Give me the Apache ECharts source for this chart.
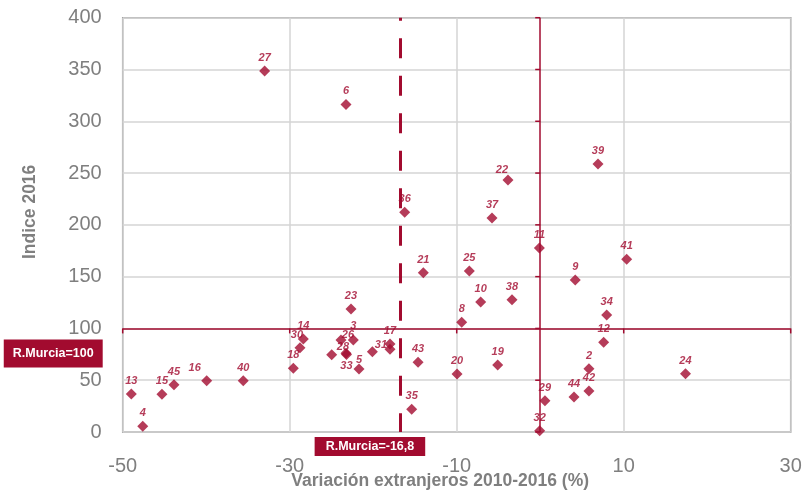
<!DOCTYPE html>
<html>
<head>
<meta charset="utf-8">
<script src="https://cdn.jsdelivr.net/npm/echarts@6/dist/echarts.min.js"></script>
<style>
html,body{margin:0;padding:0;background:#fff;}
#chart{width:804px;height:492px;}
</style>
</head>
<body>
<div id="chart"></div>
<script>
// ---- data ----
const pointNames = ['2','3','4','5','6','8','9','10','11','12','13','14','15','16','17','18','19','20','21','22','23','24','25','26','27','28','29','30','31','32','33','34','35','36','37','38','39','40','41','42','43','44','45','',''];
const variacion = [5.84,-22.38,-47.6,-21.7,-23.26,-9.4,4.2,-7.13,-0.1,7.6,-48.97,-28.37,-45.3,-39.94,-17.99,-29.57,-5.09,-9.96,-14.0,-3.86,-22.66,17.4,-8.49,-23.86,-33.0,-23.26,0.57,-28.77,-17.99,-0.06,-23.2,7.96,-15.39,-16.23,-5.77,-3.38,6.92,-35.56,10.36,5.84,-14.63,4.05,-43.86,-24.97,-20.1];
const indice = [61.1,88.8,5.5,60.8,316.3,105.9,146.7,125.5,177.6,86.6,36.7,89.8,36.4,49.5,84.9,61.5,64.7,56.0,153.8,243.2,118.7,56.3,155.4,88.8,348.5,76.0,30.2,81.4,79.8,1.3,74.8,112.9,21.9,212.1,206.6,127.7,258.7,49.5,166.7,39.6,67.3,33.8,45.7,74.6,77.5];
const murciaIndice = 100;
const murciaVariacion = -16.8;
const xTickLabels = ['-50','-30','-10','10','30'];
const yTickLabels = ['0','50','100','150','200','250','300','350','400'];

// ---- styles ----
const RED = '#A20B2F';
const GRAY_TXT = '#7F7F7F';
const FONT = '"Liberation Sans", Arial, sans-serif';
const labelTweaks = {
  '26': {offset:[7,8]},
  '3': {offset:[0,-1]},
  '28': {offset:[-3,7]},
  '33': {position:'bottom', distance:0},
  '5': {offset:[0,4]},
  '31': {offset:[-9,9]},
  '16': {offset:[-12,0]},
  '30': {offset:[-3,0]},
  '22': {offset:[-6,3]}
};

const xMin = Number(xTickLabels[0]), xMax = Number(xTickLabels[xTickLabels.length-1]);
const xStep = Number(xTickLabels[1]) - Number(xTickLabels[0]);
const yMin = Number(yTickLabels[0]), yMax = Number(yTickLabels[yTickLabels.length-1]);
const yStep = Number(yTickLabels[1]) - Number(yTickLabels[0]);

const scatterData = pointNames.map((n,i)=>{
  const item = {name:n, value:[variacion[i], indice[i]]};
  if (labelTweaks[n]) item.label = labelTweaks[n];
  return item;
});

const tickData = [];
yTickLabels.forEach(v=>tickData.push([0, Number(v), 0]));
xTickLabels.forEach(v=>tickData.push([Number(v), murciaIndice, 1]));

const chart = echarts.init(document.getElementById('chart'), null, {renderer:'canvas'});
chart.setOption({
  animation:false,
  backgroundColor:'#fff',
  textStyle:{fontFamily:FONT},
  grid:{left:122.7, right:13.3, top:17.7, bottom:60, containLabel:false, outerBoundsMode:'none',
        show:true, borderColor:'#8A8A8A', borderWidth:1.5, backgroundColor:'transparent'},
  xAxis:{
    type:'value', min:xMin, max:xMax, interval:xStep,
    axisLine:{show:false}, axisTick:{show:false},
    axisLabel:{color:GRAY_TXT, fontSize:20, margin:24, fontFamily:FONT, formatter:v=>String(v)},
    splitLine:{show:true, lineStyle:{color:'#D4D4D4', width:1.5}},
    name:'Variación extranjeros 2010-2016 (%)', nameLocation:'middle', nameGap:40, nameMoveOverlap:false,
    nameTextStyle:{color:GRAY_TXT, fontSize:17.5, fontWeight:'bold', fontFamily:FONT, padding:[0,33,0,0]}
  },
  yAxis:{
    type:'value', min:yMin, max:yMax, interval:yStep,
    axisLine:{show:false}, axisTick:{show:false},
    axisLabel:{color:GRAY_TXT, fontSize:20, margin:21, fontFamily:FONT},
    splitLine:{show:true, lineStyle:{color:'#D4D4D4', width:1.5}},
    name:'Indice 2016', nameLocation:'middle', nameGap:84,
    nameTextStyle:{color:GRAY_TXT, fontSize:17.5, fontWeight:'bold', fontFamily:FONT, padding:[0,0,0,26]}
  },
  series:[
    {
      type:'custom', silent:true, z:3,
      renderItem:function(params, api){
        const p = api.coord([api.value(0), api.value(1)]);
        const t = api.value(2);
        const shape = t === 0 ? {x1:p[0]-5, y1:p[1], x2:p[0], y2:p[1]} : {x1:p[0], y1:p[1], x2:p[0], y2:p[1]+5};
        return {type:'line', shape:shape, style:{stroke:RED, lineWidth:1.5}};
      },
      data:tickData
    },
    {
      type:'scatter', symbol:'diamond', symbolSize:11, z:5,
      itemStyle:{color:RED},
      label:{show:true, position:'top', distance:2, color:RED, fontSize:11, fontWeight:'bold', fontStyle:'italic', fontFamily:FONT, formatter:p=>p.name},
      data:scatterData,
      markLine:{
        silent:true, symbol:['none','none'], animation:false,
        data:[
          [{coord:[xMin, murciaIndice], lineStyle:{color:RED, width:1.5, type:'solid'},
            label:{show:true, position:'start', formatter:'R.Murcia=' + murciaIndice, color:'#fff', fontWeight:'bold', fontSize:12.5, fontFamily:FONT, backgroundColor:RED, padding:[8,9,7,9], distance:20, offset:[0,25]}},
           {coord:[xMax, murciaIndice]}],
          [{coord:[0, yMin], lineStyle:{color:RED, width:1.5, type:'solid'}, label:{show:false}},
           {coord:[0, yMax]}],
          [{coord:[murciaVariacion, yMax], lineStyle:{color:RED, width:3, type:[20,17.5], dashOffset:16.9},
            label:{show:true, position:'end', formatter:'R.Murcia=' + String(murciaVariacion).replace('.', ','), color:'#fff', fontWeight:'bold', fontSize:12.5, fontFamily:FONT, backgroundColor:RED, padding:[3,11,3,11], distance:5, offset:[-30,0]}},
           {coord:[murciaVariacion, yMin]}]
        ]
      }
    }
  ]
});
</script>
</body>
</html>
